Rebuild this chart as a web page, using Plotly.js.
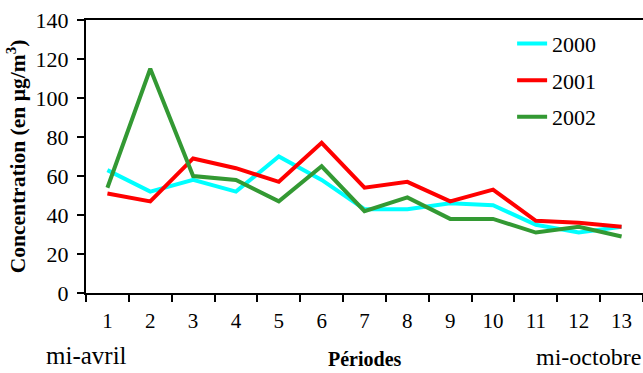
<!DOCTYPE html>
<html>
<head>
<meta charset="utf-8">
<script src="https://cdn.plot.ly/plotly-3.0.1.min.js"></script>
<style>html,body{margin:0;padding:0;background:#fff;}#chart{width:643px;height:373px;}</style>
</head>
<body>
<div id="chart"></div>
<script>
const periods = ["1","2","3","4","5","6","7","8","9","10","11","12","13"];
const y2000 = [63, 52, 58, 52, 70, 58, 43, 43, 46, 45, 35, 31, 34];
const y2001 = [51, 47, 69, 64, 57, 77, 54, 57, 47, 53, 37, 36, 34];
const y2002 = [54, 115, 60, 58, 47, 65, 42, 49, 38, 38, 31, 34, 29];
const seriesNames = ["2000", "2001", "2002"];
const yTicks = [0, 20, 40, 60, 80, 100, 120, 140];

const F = "Liberation Serif";
const colors = ["#00FFFF", "#FF0000", "#339933"];
const data = [y2000, y2001, y2002].map((ys, i) => ({
  x: periods, y: ys, type: "scatter", mode: "lines", name: seriesNames[i],
  legendgroup: "g" + i,
  line: {color: colors[i], width: 4}
}));

const layout = {
  width: 643, height: 373,
  margin: {l: 86, r: 0, t: 20, b: 80},
  paper_bgcolor: "#fff", plot_bgcolor: "#fff",
  font: {family: F, size: 21, color: "#000"},
  showlegend: true,
  legend: {x: 0.765, xanchor: "left", y: 0.99, yanchor: "top", bgcolor: "rgba(0,0,0,0)",
           font: {family: F, size: 22}, tracegroupgap: 5},
  xaxis: {
    type: "category", tickson: "boundaries", range: [-0.5, 12.5],
    showline: true, linecolor: "#000", linewidth: 2, mirror: true,
    ticks: "outside", ticklen: 7, tickwidth: 2, tickcolor: "#000",
    ticklabelstandoff: 8,
    showgrid: false, zeroline: false,
    tickfont: {family: F, size: 21}
  },
  yaxis: {
    range: [0, 140], tickvals: yTicks, ticktext: yTicks.map(String),
    showline: true, linecolor: "#000", linewidth: 2,
    ticks: "outside", ticklen: 7, tickwidth: 2, tickcolor: "#000",
    ticklabelstandoff: 4,
    showgrid: false, zeroline: false,
    tickfont: {family: F, size: 22},
    title: {text: "<b>Concentration (en µg/m<sup>3</sup>)</b>", font: {family: F, size: 21.5}, standoff: 4}
  },
  annotations: [
    {text: "mi-avril", xref: "paper", yref: "paper", x: 0.0, y: -0.23, xanchor: "center", yanchor: "middle",
     showarrow: false, font: {family: F, size: 25}},
    {text: "<b>Périodes</b>", xref: "paper", yref: "paper", x: 0.5, y: -0.24, xanchor: "center", yanchor: "middle",
     showarrow: false, font: {family: F, size: 20}},
    {text: "mi-octobre", xref: "paper", yref: "paper", x: 1.0, y: -0.235, xanchor: "right", yanchor: "middle",
     showarrow: false, font: {family: F, size: 24}}
  ]
};

Plotly.newPlot("chart", data, layout, {displayModeBar: false, staticPlot: true});
</script>
</body>
</html>
